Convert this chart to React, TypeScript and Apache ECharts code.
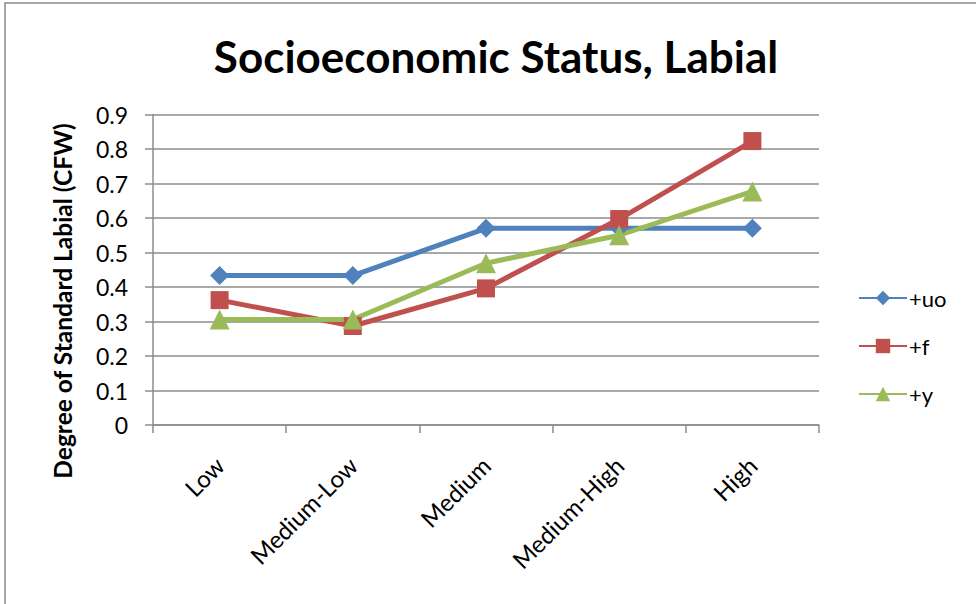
import React, { useEffect, useRef } from "react";
import * as echarts from "echarts";

const categories = ["Low", "Medium-Low", "Medium", "Medium-High", "High"];
const uoValues = [0.433, 0.433, 0.57, 0.57, 0.57];
const fValues = [0.362, 0.287, 0.396, 0.597, 0.823];
const yValues = [0.306, 0.306, 0.469, 0.55, 0.677];
const yTicks = [0, 0.1, 0.2, 0.3, 0.4, 0.5, 0.6, 0.7, 0.8, 0.9];

const FONT = "Lato, 'Open Sans', sans-serif";
const GRID_COLOR = "#8c8c8c";

export default function App() {
  const ref = useRef<HTMLDivElement>(null);

  useEffect(() => {
    document.body.style.margin = "0";
    const chart = echarts.init(ref.current!, undefined, { renderer: "svg" });

    const lineSeries = (name: string, data: number[], color: string, symbol: string, size: number) => ({
      name,
      type: "line",
      data,
      symbol,
      symbolSize: size,
      showAllSymbol: true,
      lineStyle: { color, width: 5 },
      itemStyle: { color },
      emphasis: { disabled: true },
    });

    chart.setOption({
      animation: false,
      backgroundColor: "#ffffff",
      textStyle: { fontFamily: FONT },
      graphic: [
        {
          type: "rect",
          shape: { x: 5, y: 3, width: 1200, height: 1200 },
          style: { fill: "none", stroke: "#8a8a8a", lineWidth: 1.5 },
          silent: true,
        },
        {
          type: "text",
          x: 496,
          y: 56,
          style: {
            text: "Socioeconomic Status, Labial",
            font: `bold 44px ${FONT}`,
            fill: "#000000",
            textAlign: "center",
            textVerticalAlign: "middle",
          },
        },
        {
          // value axis title, centred on the plot plus its category labels
          type: "text",
          x: 62,
          y: 301,
          rotation: Math.PI / 2,
          style: {
            text: "Degree of Standard Labial (CFW)",
            font: `bold 24.5px ${FONT}`,
            fill: "#000000",
            textAlign: "center",
            textVerticalAlign: "middle",
          },
        },
      ],
      grid: { left: 153, top: 114.5, width: 666, height: 310.5, containLabel: false },
      legend: {
        orient: "vertical",
        left: 853,
        top: 282,
        itemWidth: 48,
        itemHeight: 18,
        itemGap: 26,
        textStyle: { fontFamily: FONT, fontSize: 22, color: "#000", padding: [0, 0, 0, -3] },
        data: ["+uo", "+f", "+y"],
      },
      xAxis: {
        type: "category",
        data: categories,
        boundaryGap: true,
        axisLine: { lineStyle: { color: GRID_COLOR, width: 1.5 } },
        axisTick: { show: true, length: 8, inside: false, lineStyle: { color: GRID_COLOR, width: 1.5 } },
        axisLabel: {
          rotate: 45,
          margin: 36,
          fontFamily: FONT,
          fontSize: 24,
          color: "#000",
          interval: 0,
        },
        splitLine: { show: false },
      },
      yAxis: {
        type: "value",
        min: yTicks[0],
        max: yTicks[yTicks.length - 1],
        interval: 0.1,
        axisLine: { show: true, lineStyle: { color: GRID_COLOR, width: 1.5 } },
        axisTick: { show: true, length: 8, lineStyle: { color: GRID_COLOR, width: 1.5 } },
        axisLabel: {
          margin: 25,
          fontFamily: FONT,
          fontSize: 23,
          color: "#000",
          formatter: (v: number) => (Math.round(v * 10) / 10).toString(),
        },
        splitLine: { show: true, lineStyle: { color: GRID_COLOR, width: 1.5 } },
      },
      series: [
        lineSeries("+uo", uoValues, "#4F81BD", "diamond", 19),
        lineSeries("+f", fValues, "#C0504D", "rect", 18),
        lineSeries("+y", yValues, "#9BBB59", "triangle", 20),
      ],
    });

    return () => chart.dispose();
  }, []);

  return <div ref={ref} style={{ width: 976, height: 604 }} />;
}
